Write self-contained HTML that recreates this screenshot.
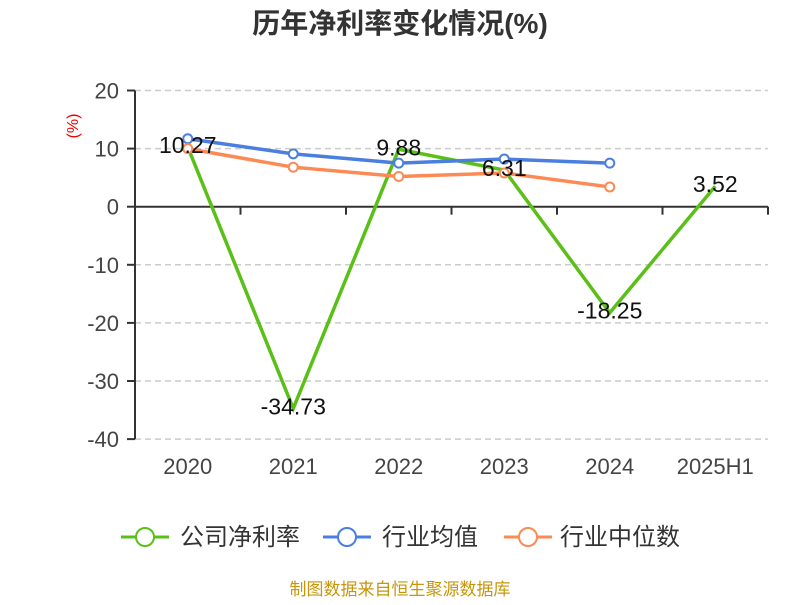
<!DOCTYPE html>
<html><head><meta charset="utf-8"><style>
body{margin:0;background:#fff;font-family:"Liberation Sans","Noto Sans CJK SC",sans-serif}
</style></head><body>
<svg width="800" height="600" xmlns="http://www.w3.org/2000/svg" font-family="Liberation Sans, Noto Sans CJK SC, sans-serif">
<text x="400" y="33" text-anchor="middle" font-size="28" font-weight="bold" fill="#333">历年净利率变化情况(%)</text>
<text x="78" y="126" font-size="16" fill="#e00" transform="rotate(-90 78 126)" text-anchor="middle">(%)</text>
<g id="grid"></g><g id="axes"></g><g id="series"></g><g id="labels"></g>
<g>
<g><line x1="121" y1="537" x2="169" y2="537" stroke="#5ac018" stroke-width="3"/><circle cx="145" cy="537" r="9" fill="#fff" stroke="#5ac018" stroke-width="2"/><text x="180" y="545" font-size="24" fill="#333">公司净利率</text></g>
<g><line x1="323" y1="537" x2="371" y2="537" stroke="#4a7fe0" stroke-width="3"/><circle cx="347" cy="537" r="9" fill="#fff" stroke="#4a7fe0" stroke-width="2"/><text x="382" y="545" font-size="24" fill="#333">行业均值</text></g>
<g><line x1="504" y1="537" x2="552" y2="537" stroke="#fc8a54" stroke-width="3"/><circle cx="528" cy="537" r="9" fill="#fff" stroke="#fc8a54" stroke-width="2"/><text x="560" y="545" font-size="24" fill="#333">行业中位数</text></g>
</g>
<text x="400" y="595" text-anchor="middle" font-size="17" fill="#c8960a">制图数据来自恒生聚源数据库</text>
</svg>
<script>
const categories=["2020","2021","2022","2023","2024","2025H1"];
const companyValues=[10.27,-34.73,9.88,6.31,-18.25,3.52];
const avgValues=[11.7,9.1,7.5,8.2,7.5];
const medianValues=[10.0,6.8,5.2,5.8,3.4];
const yTicks=[20,10,0,-10,-20,-30,-40];
const NS="http://www.w3.org/2000/svg";
const x0=135,x1=768,band=(x1-x0)/categories.length;
const X=i=>x0+band*(i+0.5);
const Y=v=>206.7-v*5.81;
function mk(p,t,a){const e=document.createElementNS(NS,t);for(const k in a)e.setAttribute(k,a[k]);document.getElementById(p).appendChild(e);return e;}
yTicks.forEach(v=>{
 if(v!==0){const g=mk('grid','line',{x1:x0,x2:x1,y1:Y(v),y2:Y(v),stroke:'#ccc','stroke-dasharray':'6,4','stroke-width':1.5});
 }
 const tk=mk('axes','line',{x1:x0-8,x2:x0,y1:Y(v),y2:Y(v),stroke:'#333','stroke-width':2});
 
 const t=mk('axes','text',{x:x0-16,y:Y(v)+8,'text-anchor':'end','font-size':22,fill:'#444'});t.textContent=v;
 
});
const ya=mk('axes','line',{x1:x0,x2:x0,y1:Y(20),y2:Y(-40),stroke:'#333','stroke-width':2});

const xa=mk('axes','line',{x1:x0,x2:x1,y1:Y(0),y2:Y(0),stroke:'#333','stroke-width':2});

for(let i=0;i<=categories.length;i++){const tk=mk('axes','line',{x1:x0+band*i,x2:x0+band*i,y1:Y(0),y2:Y(0)+8,stroke:'#333','stroke-width':2});
 }
categories.forEach((c,i)=>{const t=mk('axes','text',{x:X(i),y:474,'text-anchor':'middle','font-size':22,fill:'#444'});t.textContent=c;
 });
function series(vals,color,name,markers){
 const p=mk('series','polyline',{points:vals.map((v,i)=>X(i)+','+Y(v)).join(' '),fill:'none',stroke:color,'stroke-width':3.5});
 
 if(markers)vals.forEach((v,i)=>{const c=mk('series','circle',{cx:X(i),cy:Y(v),r:4.5,fill:'#fff',stroke:color,'stroke-width':2});
  });
}
series(companyValues,'#5ac018','company',false);
series(avgValues,'#4a7fe0','industry-avg',true);
series(medianValues,'#fc8a54','industry-median',true);
companyValues.forEach((v,i)=>{const t=mk('labels','text',{x:X(i),y:Y(v)+6,'text-anchor':'middle','font-size':23,fill:'#111'});
 t.textContent=v.toFixed(2);
 });
</script>
</body></html>
